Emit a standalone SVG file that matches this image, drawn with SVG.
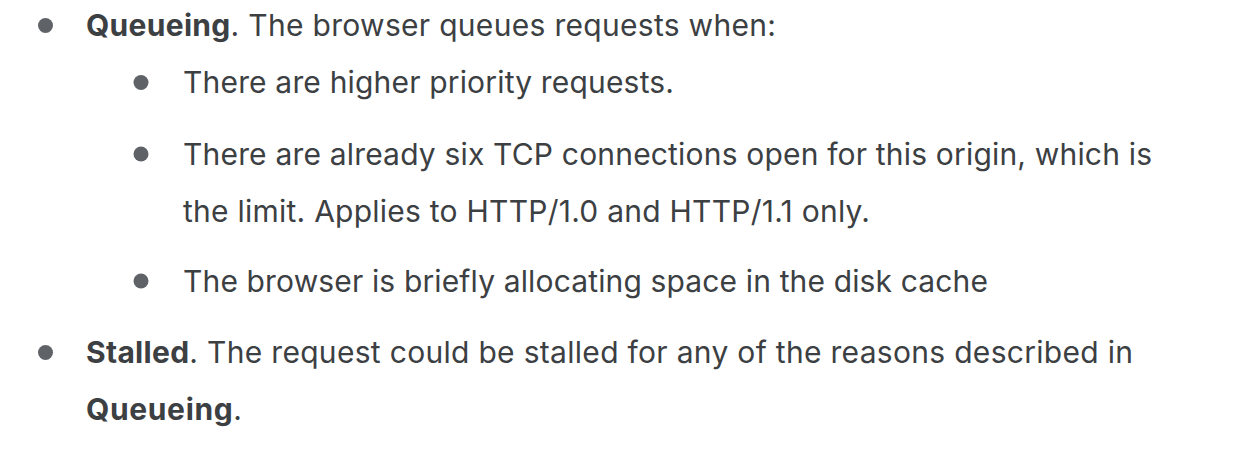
<svg xmlns="http://www.w3.org/2000/svg" width="1236" height="454" viewBox="0 0 1236 454">
<style>
text{font-family:Inter,Roboto,"Liberation Sans",sans-serif;font-size:30px;fill:#3c4043}
.b{font-weight:bold}
.dot{fill:#5f6368}
</style>
<rect width="1236" height="454" fill="#ffffff"/>
<g id="item-queueing">
<circle class="dot" cx="45.5" cy="25.5" r="7.5"/>
<text x="86" y="36" textLength="690" lengthAdjust="spacing"><tspan class="b">Queueing</tspan>. The browser queues requests when:</text>
</g>
<g id="sub-1">
<circle class="dot" cx="141" cy="82.5" r="7.5"/>
<text x="183" y="93" textLength="491" lengthAdjust="spacing">There are higher priority requests.</text>
</g>
<g id="sub-2">
<circle class="dot" cx="141" cy="154" r="7.5"/>
<text x="183" y="165" textLength="969" lengthAdjust="spacing">There are already six TCP connections open for this origin, which is</text>
<text x="183" y="222" textLength="687" lengthAdjust="spacing">the limit. Applies to HTTP/1.0 and HTTP/1.1 only.</text>
</g>
<g id="sub-3">
<circle class="dot" cx="141" cy="281" r="7.5"/>
<text x="183" y="292" textLength="805" lengthAdjust="spacing">The browser is briefly allocating space in the disk cache</text>
</g>
<g id="item-stalled">
<circle class="dot" cx="45.5" cy="352.5" r="7.5"/>
<text x="86" y="363" textLength="1047" lengthAdjust="spacing"><tspan class="b">Stalled</tspan>. The request could be stalled for any of the reasons described in</text>
<text x="86" y="420" textLength="156" lengthAdjust="spacing"><tspan class="b">Queueing</tspan>.</text>
</g>
</svg>
